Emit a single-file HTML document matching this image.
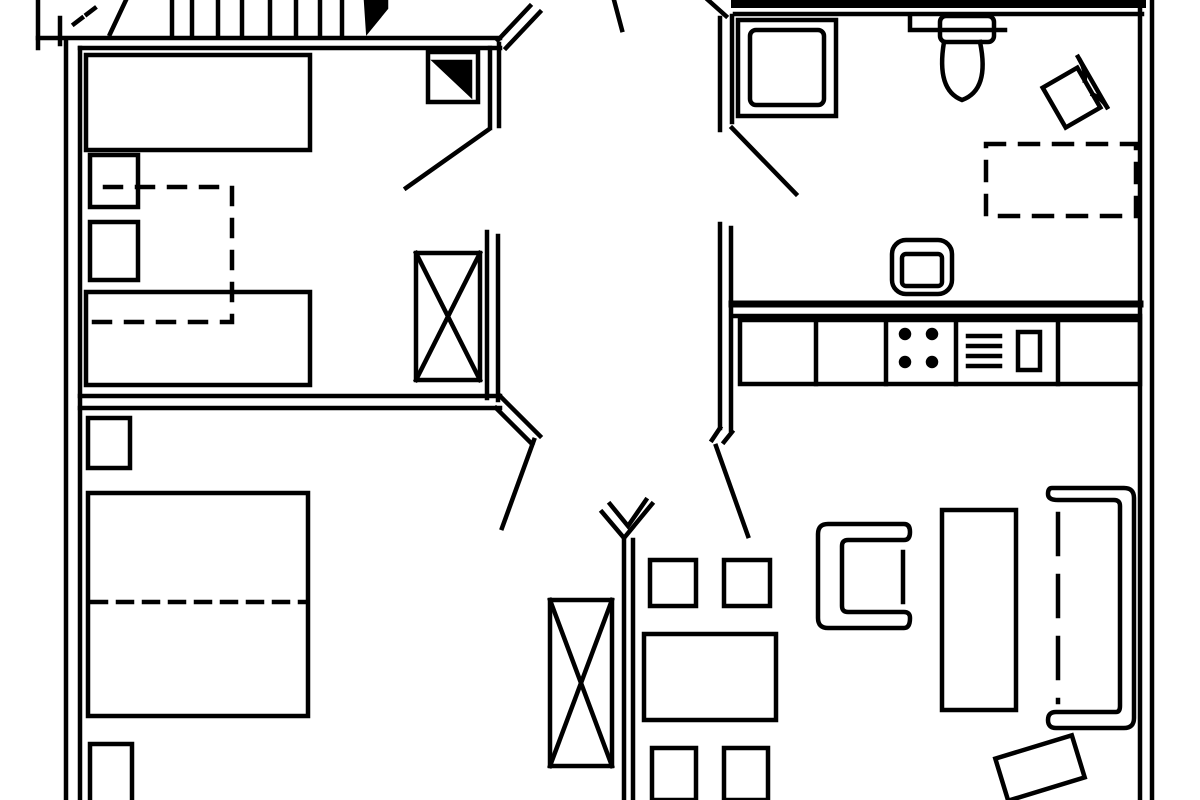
<!DOCTYPE html>
<html><head><meta charset="utf-8"><style>html,body{margin:0;padding:0;background:#fff}svg{display:block}</style></head>
<body>
<svg width="1200" height="800" viewBox="0 0 1200 800" xmlns="http://www.w3.org/2000/svg" fill="none" stroke="#000" stroke-width="4.5" stroke-linecap="square">
<!-- outer walls left -->
<line x1="66" y1="42" x2="66" y2="800"/><line x1="80" y1="48" x2="80" y2="800"/>
<line x1="38" y1="38" x2="500" y2="38"/><line x1="80" y1="48" x2="500" y2="48"/>
<line x1="38" y1="0" x2="38" y2="48"/><line x1="60" y1="18" x2="60" y2="44"/>
<line x1="74" y1="24" x2="95" y2="8" stroke-dasharray="10,6"/>
<line x1="110" y1="34" x2="126" y2="0"/>
<line x1="172" y1="0" x2="172" y2="34"/><line x1="192" y1="0" x2="192" y2="34"/><line x1="218" y1="0" x2="218" y2="34"/><line x1="242" y1="0" x2="242" y2="34"/><line x1="270" y1="0" x2="270" y2="34"/><line x1="296" y1="0" x2="296" y2="34"/><line x1="320" y1="0" x2="320" y2="34"/><line x1="342" y1="0" x2="342" y2="34"/>
<polygon points="366,0 386,0 386,8 368,30" fill="#000"/>
<line x1="735" y1="4" x2="1142" y2="4" stroke-width="8"/><line x1="735" y1="14" x2="1142" y2="14"/>
<line x1="1140" y1="0" x2="1140" y2="800"/><line x1="1152" y1="0" x2="1152" y2="800"/>
<line x1="490" y1="48" x2="490" y2="128"/><line x1="499" y1="44" x2="499" y2="126"/>
<line x1="498" y1="40" x2="530" y2="6"/><line x1="506" y1="48" x2="540" y2="12"/>
<line x1="406" y1="188" x2="488" y2="130"/>
<line x1="487" y1="232" x2="487" y2="398"/><line x1="498" y1="236" x2="498" y2="400"/>
<line x1="80" y1="396" x2="500" y2="396"/><line x1="80" y1="408" x2="500" y2="408"/>
<line x1="500" y1="396" x2="540" y2="436"/><line x1="496" y1="408" x2="532" y2="444"/>
<line x1="534" y1="440" x2="502" y2="528"/>
<line x1="720" y1="18" x2="720" y2="130"/><line x1="732" y1="16" x2="732" y2="122"/>
<line x1="708" y1="0" x2="726" y2="16"/>
<line x1="732" y1="128" x2="796" y2="194"/>
<line x1="720" y1="224" x2="720" y2="428"/><line x1="731" y1="228" x2="731" y2="430"/>
<line x1="720" y1="428" x2="712" y2="440"/><line x1="732" y1="432" x2="724" y2="442"/>
<line x1="716" y1="446" x2="748" y2="536"/>
<line x1="614" y1="0" x2="622" y2="30"/>
<line x1="732" y1="304" x2="1140" y2="304" stroke-width="7"/><line x1="732" y1="316" x2="1140" y2="316"/>
<line x1="624" y1="540" x2="624" y2="800"/><line x1="633" y1="540" x2="633" y2="800"/>
<polyline points="602,512 624,538 652,504"/><polyline points="610,504 628,526 646,500"/>
<rect x="86" y="55" width="224" height="95"/>
<rect x="90" y="155" width="48" height="52"/>
<rect x="90" y="222" width="48" height="58"/>
<rect x="86" y="292" width="224" height="93"/>
<polyline points="105,187 232,187 232,322 86,322" stroke-dasharray="16,16"/>
<rect x="428" y="52" width="50" height="50"/><polygon points="436,62 470,62 470,94" fill="#000"/>
<rect x="416" y="253" width="64" height="127"/><line x1="416" y1="253" x2="480" y2="380"/><line x1="480" y1="253" x2="416" y2="380"/>
<rect x="88" y="418" width="42" height="50"/>
<rect x="88" y="493" width="220" height="223"/>
<line x1="92" y1="602" x2="304" y2="602" stroke-dasharray="14,12"/>
<rect x="90" y="744" width="42" height="60"/>
<rect x="738" y="20" width="98" height="96"/>
<rect x="750" y="30" width="74" height="75" rx="6"/>
<polyline points="910,15 910,30 1005,30"/>
<rect x="940" y="16" width="54" height="26" rx="6"/>
<path d="M944 42 Q936 90 962 100 Q990 90 980 42"/>
<g transform="rotate(-30 1070 95)"><rect x="1050" y="75" width="40" height="46"/><line x1="1096" y1="66" x2="1096" y2="124"/><path d="M1090 90 q6 -8 6 -20 M1090 106 q6 8 6 18"/></g>
<rect x="986" y="144" width="150" height="72" stroke-dasharray="18,16"/>
<rect x="892" y="240" width="60" height="54" rx="14"/>
<rect x="902" y="254" width="40" height="32" rx="4"/>
<rect x="740" y="320" width="400" height="64"/>
<line x1="816" y1="320" x2="816" y2="384"/><line x1="886" y1="320" x2="886" y2="384"/><line x1="956" y1="320" x2="956" y2="384"/><line x1="1058" y1="320" x2="1058" y2="384"/>
<circle cx="905" cy="334" r="4" fill="#000"/><circle cx="932" cy="334" r="4" fill="#000"/><circle cx="905" cy="362" r="4" fill="#000"/><circle cx="932" cy="362" r="4" fill="#000"/>
<line x1="968" y1="336" x2="1000" y2="336"/><line x1="968" y1="346" x2="1000" y2="346"/><line x1="968" y1="356" x2="1000" y2="356"/><line x1="968" y1="366" x2="1000" y2="366"/>
<rect x="1018" y="332" width="22" height="38"/>
<path d="M904 524 H828 Q818 524 818 534 V618 Q818 628 828 628 H904 Q910 628 910 618 Q910 612 904 612 H848 Q842 612 842 606 V546 Q842 540 848 540 H904 Q910 540 910 532 Q910 524 904 524 Z"/>
<line x1="903" y1="552" x2="903" y2="602"/>
<rect x="942" y="510" width="74" height="200"/>
<path d="M1052 488 H1124 Q1134 488 1134 498 V718 Q1134 728 1124 728 H1056 Q1048 728 1048 720 Q1048 712 1056 712 H1116 Q1120 712 1120 706 V506 Q1120 500 1114 500 H1058 Q1048 500 1048 494 Q1048 488 1052 488 Z"/>
<line x1="1058" y1="514" x2="1058" y2="702" stroke-dasharray="40,22"/>
<g transform="rotate(-17 1040 768)"><rect x="1000" y="746" width="80" height="44"/></g>
<rect x="650" y="560" width="46" height="46"/><rect x="724" y="560" width="46" height="46"/>
<rect x="644" y="634" width="132" height="86"/>
<rect x="652" y="748" width="44" height="52"/><rect x="724" y="748" width="44" height="52"/>
<rect x="550" y="600" width="62" height="166"/><line x1="550" y1="600" x2="612" y2="766"/><line x1="612" y1="600" x2="550" y2="766"/>
</svg>
</body></html>
